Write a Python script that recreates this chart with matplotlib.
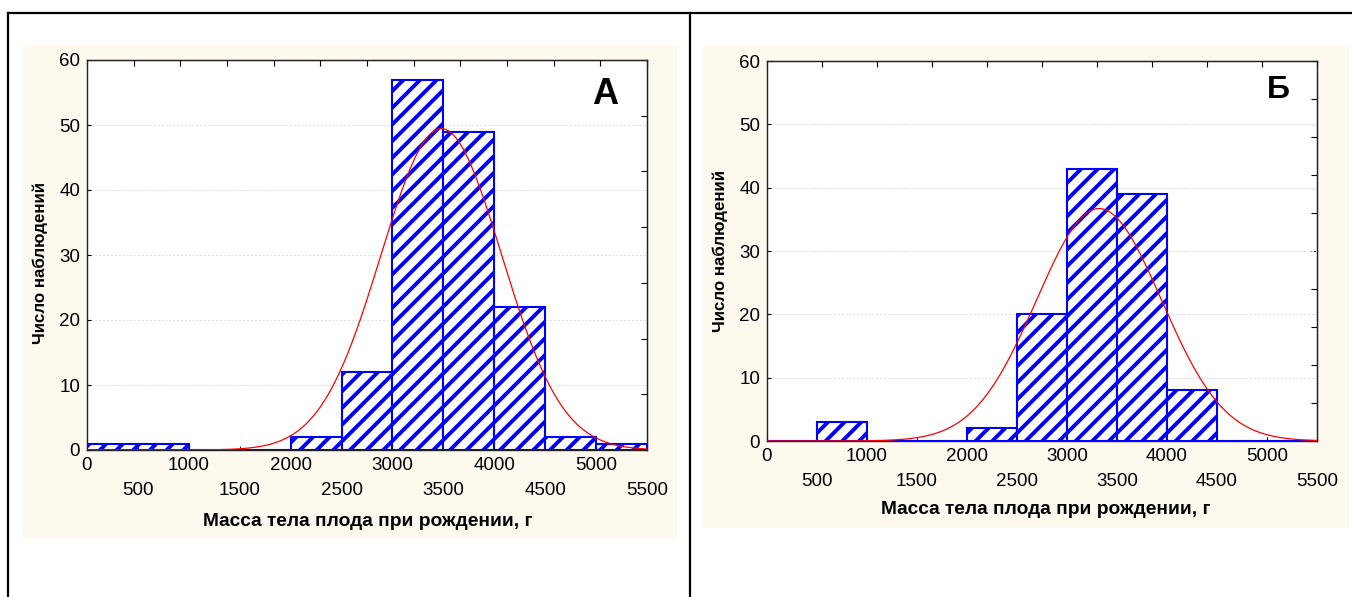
import numpy as np
import matplotlib
matplotlib.use("Agg")
import matplotlib.pyplot as plt
from matplotlib.patches import Rectangle
from matplotlib.lines import Line2D

# Гистограммы массы тела плода при рождении (две группы)
bin_left = [0, 500, 1000, 1500, 2000, 2500, 3000, 3500, 4000, 4500, 5000]
counts_a = [1, 1, 0, 0, 2, 12, 57, 49, 22, 2, 1]
counts_b = [0, 3, 0, 0, 2, 20, 43, 39, 8, 0, 0]
bin_width = 500

# параметры нормальной кривой (среднее, ст. откл.)
mean_a, sd_a = 3480, 593
mean_b, sd_b = 3320, 625

panel_letters = ["А", "Б"]
xlabel = "Масса тела плода при рождении, г"
ylabel = "Число наблюдений"

plt.rcParams["font.family"] = ["Liberation Sans", "DejaVu Sans"]
plt.rcParams["hatch.linewidth"] = 2.8

W, H = 1352, 597
fig = plt.figure(figsize=(W / 100, H / 100), dpi=100)


def fx(px):
    return px / W


def fy(py):
    return 1 - py / H


# кремовый фон панелей
cream = "#fdf9ef"
fig.patches.append(Rectangle((fx(23), fy(537)), fx(676 - 23), (537 - 45) / H,
                             transform=fig.transFigure, color=cream, zorder=-10))
fig.patches.append(Rectangle((fx(703), fy(527)), fx(1348 - 703), (527 - 46) / H,
                             transform=fig.transFigure, color=cream, zorder=-10))

# рамка
for xs, ys in [((8, 1352), (13, 13)), ((8, 8), (13, 597)), ((690, 690), (13, 597))]:
    fig.add_artist(Line2D([fx(x) for x in xs], [fy(y) for y in ys],
                          transform=fig.transFigure, color="black", lw=1.6, zorder=-5))

panels = [
    dict(box=(87, 60, 647, 450), counts=counts_a, mean=mean_a, sd=sd_a,
         letter=(605, 95, 26), top_n=13, right_n=8, xl=(368, 521), yl=(40, 263)),
    dict(box=(767, 61, 1317, 441), counts=counts_b, mean=mean_b, sd=sd_b,
         letter=(1278, 90, 23), top_n=11, right_n=11, xl=(1046, 510), yl=(720, 251)),
]

for i, p in enumerate(panels):
    x0, y0, x1, y1 = p["box"]
    ax = fig.add_axes([fx(x0), fy(y1), (x1 - x0) / W, (y1 - y0) / H])
    ax.set_facecolor("white")

    ax.bar(bin_left, p["counts"], width=bin_width, align="edge",
           facecolor="white", edgecolor="#0000ff", hatch="//", linewidth=1.5, zorder=3)

    n = sum(p["counts"])
    xs = np.linspace(0, 5500, 400)
    ys = n * bin_width / (p["sd"] * np.sqrt(2 * np.pi)) * np.exp(-0.5 * ((xs - p["mean"]) / p["sd"]) ** 2)
    ax.plot(xs, ys, color="red", lw=0.9, zorder=4)

    ax.set_xlim(0, 5500)
    ax.set_ylim(0, 60)
    ax.set_yticks(range(0, 61, 10))
    ax.yaxis.grid(True, linestyle=(0, (2, 1.5)), color="#e0e0e0", lw=0.8)
    ax.set_axisbelow(True)

    ax.set_xticks(range(0, 5001, 1000))
    ax.set_xticks(range(500, 5501, 1000), minor=True)
    ax.set_xticklabels([str(v) for v in range(0, 5001, 1000)])
    ax.set_xticklabels([str(v) for v in range(500, 5501, 1000)], minor=True)
    ax.tick_params(axis="x", which="major", direction="in", length=3, pad=5, labelsize=13.5)
    ax.tick_params(axis="x", which="minor", direction="in", length=3, pad=23, labelsize=13.5)
    ax.tick_params(axis="y", direction="in", length=3, pad=5, labelsize=13.5)

    for s in ax.spines.values():
        s.set_linewidth(1)
        s.set_color("#222222")

    top = ax.secondary_xaxis("top")
    top.set_xticks(np.linspace(0, 5500, p["top_n"]))
    top.tick_params(direction="in", length=4, labeltop=False)
    right = ax.secondary_yaxis("right")
    right.set_yticks(np.linspace(0, 60, p["right_n"]))
    right.tick_params(direction="in", length=4, labelright=False)

    lx, ly, ls = p["letter"]
    fig.text(fx(lx), fy(ly), panel_letters[i], fontsize=ls, fontweight="bold",
             ha="center", va="center")
    fig.text(fx(p["xl"][0]), fy(p["xl"][1]), xlabel, fontsize=13.8, fontweight="bold",
             ha="center", va="center")
    fig.text(fx(p["yl"][0]), fy(p["yl"][1]), ylabel, fontsize=12.2, fontweight="bold",
             ha="center", va="center", rotation=90)

fig.savefig("out.png", dpi=100)
